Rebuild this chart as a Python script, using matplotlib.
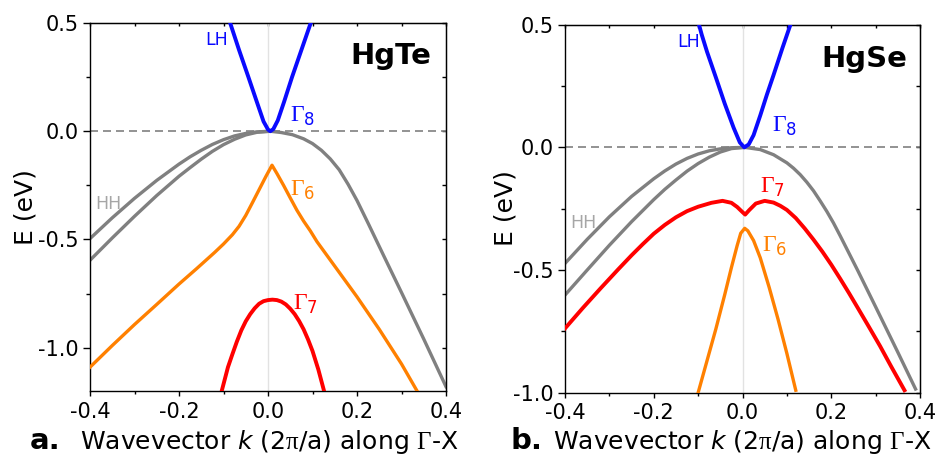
import matplotlib
matplotlib.use('Agg')
import matplotlib.pyplot as plt
from matplotlib.ticker import MultipleLocator

plt.rcParams['font.family'] = ['DejaVu Sans']
plt.rcParams['axes.unicode_minus'] = False
plt.rcParams['mathtext.fontset'] = 'custom'
plt.rcParams['mathtext.rm'] = 'Liberation Serif'
plt.rcParams['mathtext.sf'] = 'DejaVu Sans'
plt.rcParams['mathtext.it'] = 'DejaVu Sans:italic'
plt.rcParams['mathtext.bf'] = 'DejaVu Sans:bold'

# ---- HgTe (panel a) ----
te_lh_k = [-0.085, -0.065, -0.044, -0.025, -0.010, 0.000, 0.005, 0.012, 0.022, 0.036, 0.054, 0.075, 0.096]
te_lh_e = [0.50, 0.375, 0.25, 0.135, 0.045, 0.008, 0.0, 0.010, 0.05, 0.135, 0.25, 0.375, 0.50]

te_hh1_k = [-0.4, -0.35, -0.3, -0.25, -0.2, -0.175, -0.15, -0.125, -0.1, -0.075, -0.05, -0.025, 0.005]
te_hh1_e = [-0.496, -0.40, -0.31, -0.227, -0.152, -0.118, -0.088, -0.061, -0.039, -0.0215, -0.010, -0.003, 0.0]
te_hh2_k = [-0.4, -0.35, -0.3, -0.25, -0.2, -0.175, -0.15, -0.125, -0.1, -0.075, -0.05, -0.025, 0.005]
te_hh2_e = [-0.596, -0.493, -0.393, -0.297, -0.208, -0.168, -0.129, -0.093, -0.062, -0.037, -0.017, -0.005, 0.0]
te_hh3_k = [0.005, 0.03, 0.055, 0.08, 0.1, 0.12, 0.14, 0.16, 0.18, 0.2, 0.225, 0.26, 0.3, 0.35, 0.4]
te_hh3_e = [0.0, -0.006, -0.016, -0.035, -0.057, -0.088, -0.128, -0.178, -0.245, -0.32, -0.425,
            -0.575, -0.745, -0.96, -1.18]

te_g6_k = [-0.4, -0.35, -0.3, -0.25, -0.2, -0.16, -0.12, -0.1, -0.08, -0.065, -0.05, -0.035, -0.02, -0.005, 0.009,
           0.02, 0.035, 0.05, 0.065, 0.08, 0.095, 0.11, 0.14, 0.17, 0.2, 0.25, 0.3, 0.335]
te_g6_e = [-1.09, -0.99, -0.893, -0.80, -0.706, -0.634, -0.56, -0.521, -0.478, -0.439, -0.389, -0.33, -0.27, -0.21, -0.157,
           -0.195, -0.25, -0.308, -0.365, -0.415, -0.46, -0.51, -0.595, -0.68, -0.765, -0.915, -1.075, -1.2]

te_g7_k = [-0.104, -0.09, -0.08, -0.07, -0.06, -0.05, -0.04, -0.03, -0.02, -0.01, 0.0, 0.01,
           0.02, 0.03, 0.04, 0.05, 0.06, 0.07, 0.08, 0.09, 0.1, 0.113, 0.126]
te_g7_e = [-1.2, -1.09, -1.03, -0.972, -0.92, -0.878, -0.845, -0.818, -0.797, -0.785, -0.78, -0.778,
           -0.78, -0.787, -0.80, -0.82, -0.845, -0.877, -0.915, -0.962, -1.015, -1.1, -1.2]

# ---- HgSe (panel b) ----
se_lh_k = [-0.098, -0.092, -0.08, -0.06, -0.04, -0.02, -0.006, 0.004,
           0.014, 0.025, 0.04, 0.055, 0.07, 0.09, 0.108]
se_lh_e = [0.5, 0.46, 0.39, 0.285, 0.178, 0.08, 0.02, 0.0,
           0.012, 0.05, 0.13, 0.215, 0.295, 0.405, 0.5]

se_hh1_k = [-0.4, -0.35, -0.3, -0.25, -0.2, -0.175, -0.15, -0.125, -0.1, -0.075, -0.05, -0.025, 0.005]
se_hh1_e = [-0.473, -0.375, -0.283, -0.2, -0.128, -0.096, -0.068, -0.045, -0.027, -0.014, -0.006, -0.0015, 0.0]
se_hh2_k = [-0.4, -0.35, -0.3, -0.25, -0.2, -0.175, -0.15, -0.125, -0.1, -0.075, -0.05, -0.025, 0.005]
se_hh2_e = [-0.602, -0.50, -0.399, -0.303, -0.213, -0.171, -0.133, -0.097, -0.066, -0.04, -0.019, -0.005, 0.0]
se_hh3_k = [0.005, 0.04, 0.07, 0.1, 0.115, 0.13, 0.145, 0.16, 0.175, 0.19, 0.205, 0.22, 0.26, 0.3, 0.35, 0.39]
se_hh3_e = [0.0, -0.009, -0.03, -0.063, -0.085, -0.111, -0.142, -0.177, -0.218, -0.261, -0.308, -0.36,
            -0.503, -0.65, -0.835, -0.985]

se_g7_k = [-0.4, -0.36, -0.32, -0.28, -0.25, -0.225, -0.2, -0.175, -0.15, -0.125, -0.1, -0.07, -0.045,
           -0.025, -0.012, 0.0, 0.006, 0.015, 0.03, 0.05, 0.07, 0.085, 0.1, 0.12, 0.14, 0.16, 0.18,
           0.2, 0.22, 0.24, 0.26, 0.285, 0.31, 0.335, 0.365]
se_g7_e = [-0.738, -0.655, -0.575, -0.497, -0.44, -0.395, -0.352, -0.316, -0.285, -0.26, -0.242, -0.226, -0.218,
           -0.226, -0.243, -0.264, -0.274, -0.256, -0.229, -0.218, -0.225, -0.238, -0.255, -0.288, -0.33, -0.376, -0.425,
           -0.478, -0.535, -0.594, -0.655, -0.732, -0.81, -0.893, -0.99]

se_g6_k = [-0.1, -0.08, -0.06, -0.04, -0.025, -0.012, -0.004, 0.005,
           0.012, 0.025, 0.04, 0.06, 0.08, 0.1, 0.12]
se_g6_e = [-1.0, -0.87, -0.74, -0.6, -0.49, -0.4, -0.35, -0.33,
           -0.34, -0.38, -0.45, -0.57, -0.7, -0.84, -0.99]

blue = '#0a0aff'
gray = '#808080'
orange = '#ff8000'
red = '#ff0000'
hh_gray = '#a6a6a6'


def style_axes(ax, ymin):
    ax.set_xlim(-0.4, 0.4)
    ax.set_ylim(ymin, 0.5)
    ax.xaxis.set_major_locator(MultipleLocator(0.2))
    ax.xaxis.set_minor_locator(MultipleLocator(0.1))
    ax.yaxis.set_major_locator(MultipleLocator(0.5))
    ax.yaxis.set_minor_locator(MultipleLocator(0.25))
    ax.tick_params(axis='x', which='major', direction='out', length=3.6, width=1, pad=4, labelsize=15)
    ax.tick_params(axis='x', which='minor', direction='out', length=2, width=1)
    ax.tick_params(axis='y', which='major', direction='out', length=5, width=1, pad=3, labelsize=15)
    ax.tick_params(axis='y', which='minor', direction='out', length=3, width=1)
    for s in ax.spines.values():
        s.set_linewidth(1.0)
    top = ax.secondary_xaxis('top')
    top.xaxis.set_major_locator(MultipleLocator(0.2))
    top.xaxis.set_minor_locator(MultipleLocator(0.1))
    top.tick_params(axis='x', which='both', direction='in', length=2.2, width=1, labeltop=False)
    right = ax.secondary_yaxis('right')
    right.yaxis.set_major_locator(MultipleLocator(0.5))
    right.yaxis.set_minor_locator(MultipleLocator(0.25))
    right.tick_params(axis='y', which='both', direction='in', length=3, width=1, labelright=False)
    ax.axvline(0, color='#e2e2e2', lw=1.0, zorder=0.5)
    ax.axhline(0, color=gray, lw=1.2, ls=(0, (4.8, 3)), zorder=1)


fig = plt.figure(figsize=(9.38, 4.59), dpi=100)
ax1 = fig.add_axes([90 / 938, 1 - 391 / 459, 356 / 938, 368 / 459])
ax2 = fig.add_axes([565 / 938, 1 - 392.7 / 459, 355 / 938, 368 / 459])

style_axes(ax1, -1.2)
style_axes(ax2, -1.0)

# panel a
ax1.plot(te_hh1_k, te_hh1_e, color=gray, lw=2.4, zorder=2)
ax1.plot(te_hh2_k, te_hh2_e, color=gray, lw=2.4, zorder=2)
ax1.plot(te_hh3_k, te_hh3_e, color=gray, lw=2.4, zorder=2)
ax1.plot(te_g6_k, te_g6_e, color=orange, lw=2.4, zorder=3)
ax1.plot(te_g7_k, te_g7_e, color=red, lw=2.8, zorder=3)
ax1.plot(te_lh_k, te_lh_e, color=blue, lw=2.8, zorder=4)

ax1.text(-0.140, 0.397, 'LH', color=blue, fontsize=12.5)
ax1.text(-0.388, -0.357, 'HH', color=hh_gray, fontsize=12.5)
ax1.text(0.050, 0.043, r'$\Gamma_{\mathsf{8}}$', color=blue, fontsize=17)
ax1.text(0.050, -0.296, r'$\Gamma_{\mathsf{6}}$', color=orange, fontsize=17)
ax1.text(0.057, -0.827, r'$\Gamma_{\mathsf{7}}$', color=red, fontsize=17)
ax1.text(0.366, 0.309, 'HgTe', fontsize=21, fontweight='bold', ha='right', va='baseline')

# panel b
ax2.plot(se_hh1_k, se_hh1_e, color=gray, lw=2.4, zorder=2)
ax2.plot(se_hh2_k, se_hh2_e, color=gray, lw=2.4, zorder=2)
ax2.plot(se_hh3_k, se_hh3_e, color=gray, lw=2.4, zorder=2)
ax2.plot(se_g7_k, se_g7_e, color=red, lw=2.8, zorder=3)
ax2.plot(se_g6_k, se_g6_e, color=orange, lw=2.4, zorder=3)
ax2.plot(se_lh_k, se_lh_e, color=blue, lw=2.8, zorder=4)

ax2.text(-0.148, 0.41, 'LH', color=blue, fontsize=12.5)
ax2.text(-0.389, -0.33, 'HH', color=hh_gray, fontsize=12.5)
ax2.text(0.066, 0.064, r'$\Gamma_{\mathsf{8}}$', color=blue, fontsize=17)
ax2.text(0.039, -0.187, r'$\Gamma_{\mathsf{7}}$', color=red, fontsize=17)
ax2.text(0.043, -0.425, r'$\Gamma_{\mathsf{6}}$', color=orange, fontsize=17)
ax2.text(0.371, 0.328, 'HgSe', fontsize=21, fontweight='bold', ha='right', va='baseline')

# axis labels
xlab = r'Wavevector $\mathit{k}$ (2$\mathrm{\pi}$/a) along $\Gamma$-X'
fig.text(26 / 938, 1 - 207 / 459, 'E (eV)', fontsize=18, rotation=90, ha='center', va='center')
fig.text(505 / 938, 1 - 208 / 459, 'E (eV)', fontsize=18, rotation=90, ha='center', va='center')
fig.text(30 / 938, 1 - 449 / 459, 'a.', fontsize=21, fontweight='bold', va='baseline')
fig.text(80 / 938, 1 - 449 / 459, xlab, fontsize=18, va='baseline')
fig.text(510 / 938, 1 - 449 / 459, 'b.', fontsize=21, fontweight='bold', va='baseline')
fig.text(553 / 938, 1 - 449 / 459, xlab, fontsize=18, va='baseline')

fig.savefig('out.png', dpi=100)
